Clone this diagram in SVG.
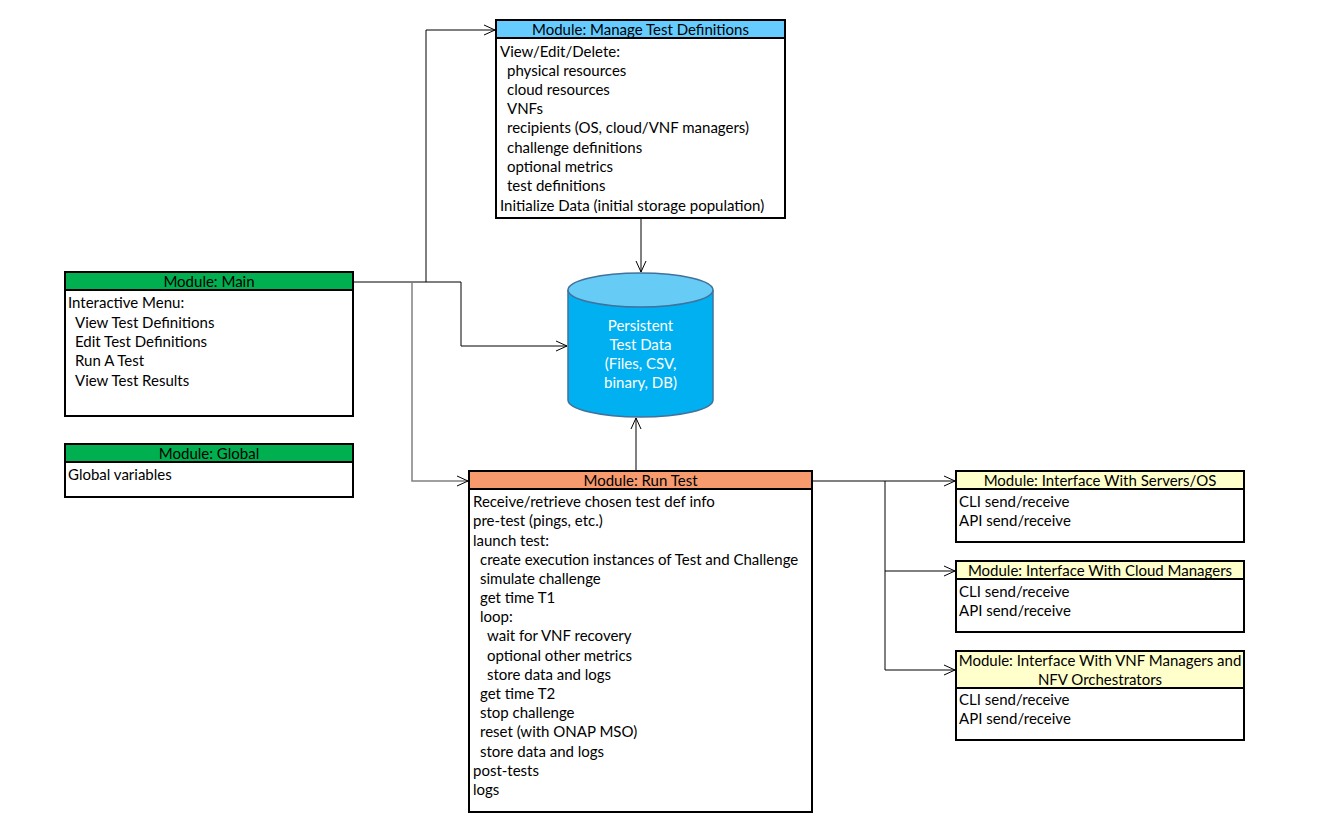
<svg xmlns="http://www.w3.org/2000/svg" width="1317" height="837" viewBox="0 0 1317 837">
<defs>
<style>
text{font-family:Lato,"Open Sans","Liberation Sans",sans-serif;font-size:15px;fill:#000}
.box{fill:#fff;stroke:#000;stroke-width:2}
.hdr{stroke:#000;stroke-width:2}
.c{text-anchor:middle}
.con{fill:none;stroke:#000;stroke-width:1}
.w{fill:#fff;text-anchor:middle}
</style>
<marker id="arr" viewBox="0 0 12 12" refX="11" refY="6" markerWidth="12" markerHeight="12" markerUnits="userSpaceOnUse" orient="auto">
<path d="M0,1 L11,6 L0,11" fill="none" stroke="#000" stroke-width="1"/>
</marker>
</defs>
<rect width="1317" height="837" fill="#fff"/>

<g id="connectors">
<path class="con" d="M353,282 H461"/>
<path class="con" d="M426,282 V30 H495" marker-end="url(#arr)"/>
<path class="con" d="M461,282 V346 H567" marker-end="url(#arr)"/>
<path d="M412,282 V481 H468" fill="none" stroke="#808080" stroke-width="1.5" marker-end="url(#arr)"/>
<path class="con" d="M641,219 V272" marker-end="url(#arr)"/>
<path class="con" d="M636,471 V418" marker-end="url(#arr)"/>
<path class="con" d="M813,481 H955" marker-end="url(#arr)"/>
<path class="con" d="M885,481 V670"/>
<path class="con" d="M885,571 H955" marker-end="url(#arr)"/>
<path class="con" d="M885,670 H955" marker-end="url(#arr)"/>
</g>

<g id="manage">
<rect class="box" x="496" y="20" width="289" height="198"/>
<rect class="hdr" x="496" y="20" width="289" height="18" fill="#66CCFF"/>
<text class="c" x="640.5" y="35">Module: Manage Test Definitions</text>
<text x="500" y="57">View/Edit/Delete:</text>
<text x="507" y="76">physical resources</text>
<text x="507" y="95">cloud resources</text>
<text x="507" y="114">VNFs</text>
<text x="507" y="133">recipients (OS, cloud/VNF managers)</text>
<text x="507" y="153">challenge definitions</text>
<text x="507" y="172">optional metrics</text>
<text x="507" y="191">test definitions</text>
<text x="500" y="211">Initialize Data (initial storage population)</text>
</g>

<g id="main">
<rect class="box" x="65" y="272" width="288" height="144"/>
<rect class="hdr" x="65" y="272" width="288" height="18" fill="#00B050"/>
<text class="c" x="209" y="287">Module: Main</text>
<text x="68" y="308">Interactive Menu:</text>
<text x="75" y="328">View Test Definitions</text>
<text x="75" y="347">Edit Test Definitions</text>
<text x="75" y="366">Run A Test</text>
<text x="75" y="386">View Test Results</text>
</g>

<g id="global">
<rect class="box" x="65" y="444" width="288" height="53"/>
<rect class="hdr" x="65" y="444" width="288" height="18" fill="#00B050"/>
<text class="c" x="209" y="459">Module: Global</text>
<text x="68" y="480">Global variables</text>
</g>

<g id="storage">
<path d="M568,290 V400 A72.5,17 0 0 0 713,400 V290" fill="#00B0F0" stroke="#41719C" stroke-width="1.5"/>
<ellipse cx="640.5" cy="290" rx="72.5" ry="17" fill="#66CCF5" stroke="#41719C" stroke-width="1.5"/>
<text class="w" x="640.5" y="331">Persistent</text>
<text class="w" x="640.5" y="350">Test Data</text>
<text class="w" x="640.5" y="369">(Files, CSV,</text>
<text class="w" x="640.5" y="388">binary, DB)</text>
</g>

<g id="runtest">
<rect class="box" x="469" y="471" width="343" height="341"/>
<rect class="hdr" x="469" y="471" width="343" height="18" fill="#F79B6E"/>
<text class="c" x="640.5" y="486">Module: Run Test</text>
<text x="473" y="507">Receive/retrieve chosen test def info</text>
<text x="473" y="526">pre-test (pings, etc.)</text>
<text x="473" y="546">launch test:</text>
<text x="480" y="565">create execution instances of Test and Challenge</text>
<text x="480" y="584">simulate challenge</text>
<text x="480" y="603">get time T1</text>
<text x="480" y="622">loop:</text>
<text x="487" y="641">wait for VNF recovery</text>
<text x="487" y="661">optional other metrics</text>
<text x="487" y="680">store data and logs</text>
<text x="480" y="699">get time T2</text>
<text x="480" y="718">stop challenge</text>
<text x="480" y="737">reset (with ONAP MSO)</text>
<text x="480" y="757">store data and logs</text>
<text x="473" y="776">post-tests</text>
<text x="473" y="795">logs</text>
</g>

<g id="servers">
<rect class="box" x="956" y="471" width="288" height="71"/>
<rect class="hdr" x="956" y="471" width="288" height="18" fill="#FFFFCC"/>
<text class="c" x="1100" y="486">Module: Interface With Servers/OS</text>
<text x="959" y="507">CLI send/receive</text>
<text x="959" y="526">API send/receive</text>
</g>

<g id="cloud">
<rect class="box" x="956" y="561" width="288" height="71"/>
<rect class="hdr" x="956" y="561" width="288" height="18" fill="#FFFFCC"/>
<text class="c" x="1100" y="576">Module: Interface With Cloud Managers</text>
<text x="959" y="597">CLI send/receive</text>
<text x="959" y="616">API send/receive</text>
</g>

<g id="vnf">
<rect class="box" x="956" y="651" width="288" height="89"/>
<rect class="hdr" x="956" y="651" width="288" height="37" fill="#FFFFCC"/>
<text class="c" x="1100" y="666">Module: Interface With VNF Managers and</text>
<text class="c" x="1100" y="685">NFV Orchestrators</text>
<text x="959" y="705">CLI send/receive</text>
<text x="959" y="724">API send/receive</text>
</g>
</svg>
